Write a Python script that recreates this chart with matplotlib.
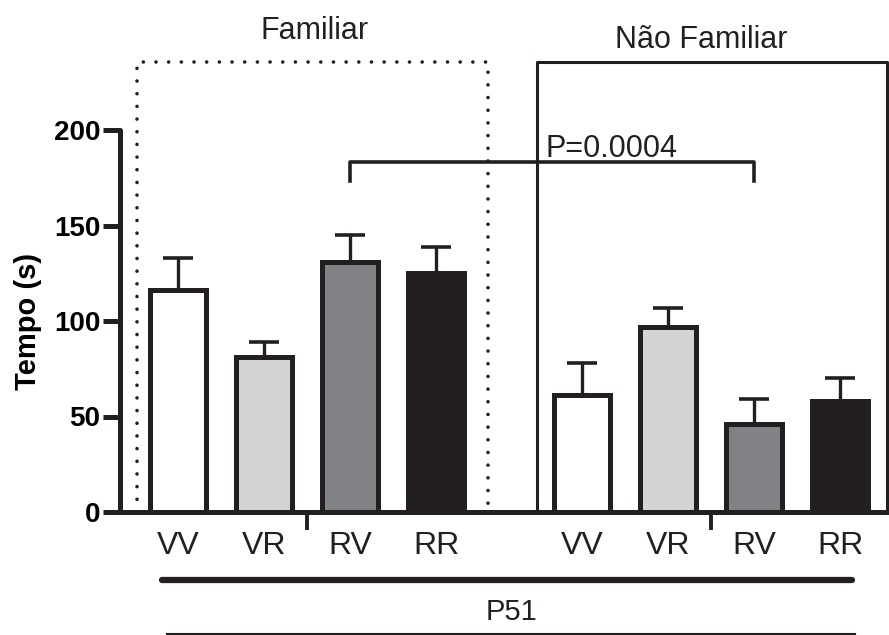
import numpy as np
import matplotlib
matplotlib.use("Agg")
import matplotlib.pyplot as plt
from matplotlib.lines import Line2D

# data
categories = ["VV", "VR", "RV", "RR", "VV", "VR", "RV", "RR"]
tempo = [116, 81, 131, 125, 61, 97, 46, 58]
erro = [17, 8, 14, 14, 17, 10, 13, 12]
cores = ["#ffffff", "#d1d3d4", "#808285", "#231f20"] * 2
grupos = ["Familiar", "Não Familiar"]
p_texto = "P=0.0004"
idade = "P51"

# bar positions: two groups of four
pos = np.array([0, 1, 2, 3, 4.7, 5.7, 6.7, 7.7])

W, H = 889, 635
fig = plt.figure(figsize=(W / 100, H / 100), dpi=100)

# axes: y=0 at px 512, 200 at px 130
px_per_unit = (512 - 130) / 200
x0_px, dx_px = 178, 86
ax = fig.add_axes([120 / W, (H - 512) / H, 1 - 120 / W, 512 / H])
ax.set_ylim(0, 512 / px_per_unit)
ax.set_xlim((120 - x0_px) / dx_px, (889 - x0_px) / dx_px)


def px2x(p):
    return (p - x0_px) / dx_px


def px2y(p):
    return (512 - p) / px_per_unit


ax.bar(pos, tempo, width=0.65, color=cores, edgecolor="#231f20", linewidth=3.6, zorder=3)
ax.errorbar(pos, tempo, yerr=[np.zeros(len(erro)), erro], fmt="none", ecolor="#231f20",
            elinewidth=2.4, capsize=11, capthick=2.6, zorder=2)

# axes styling
for s in ["top", "right"]:
    ax.spines[s].set_visible(False)
ax.spines["left"].set_bounds(0, 200)
for s in ["left", "bottom"]:
    ax.spines[s].set_linewidth(3.6)
    ax.spines[s].set_color("#231f20")
    ax.spines[s].set_capstyle("round")

ax.set_yticks([0, 50, 100, 150, 200])
ax.tick_params(axis="y", length=12, width=3.6, color="#231f20", pad=2)
for lab in ax.get_yticklabels():
    lab.set_fontfamily("Liberation Sans")
    lab.set_fontweight("bold")
    lab.set_fontsize(20)
ax.set_ylabel("Tempo (s)", fontsize=21, fontweight="bold", family="Liberation Sans")
ax.yaxis.set_label_coords((42 - 120) / (W - 120), (512 - 321) / 512)

ax.set_xticks(pos)
ax.set_xticklabels(categories, family="Liberation Sans", fontsize=23)
ax.tick_params(axis="x", length=0, pad=14, colors="#231f20")
ax.set_xticks([1.5, 6.2], minor=True)
ax.tick_params(axis="x", which="minor", length=13, width=2.8, color="#231f20")

# group boxes
top = px2y(62)
ax.plot([px2x(137), px2x(137), px2x(488), px2x(488)], [0, top, top, 0], ls=(0, (0.01, 3.5)),
        lw=2.6, color="#231f20", dash_capstyle="round", clip_on=False, zorder=1)
ax.plot([px2x(537), px2x(537), px2x(887), px2x(887)], [0, top, top, 0], lw=2.2,
        color="#231f20", clip_on=False, zorder=1)
ax.text(px2x(315), px2y(31), grupos[0], ha="center", va="center", fontsize=22,
        family="Liberation Sans", color="#231f20")
ax.text(px2x(701), px2y(40), grupos[1], ha="center", va="center", fontsize=22,
        family="Liberation Sans", color="#231f20")

# comparison bracket
yb = px2y(162)
ax.plot([pos[2], pos[2], pos[6], pos[6]], [px2y(181), yb, yb, px2y(181)], lw=2.6,
        color="#231f20", clip_on=False, zorder=4)
ax.text(px2x(545), px2y(157), p_texto, ha="left", va="baseline", fontsize=22,
        family="Liberation Sans", color="#231f20")

# age label lines under the x axis
fig.add_artist(Line2D([162 / W, 852 / W], [1 - 580 / H, 1 - 580 / H], lw=4.5,
                      color="#231f20", solid_capstyle="round"))
fig.add_artist(Line2D([167 / W, 855 / W], [1 - 634 / H, 1 - 634 / H], lw=1.5,
                      color="#231f20"))
fig.text(511 / W, 1 - 612 / H, idade, ha="center", va="center", fontsize=21,
         family="Liberation Sans", color="#231f20")

fig.savefig("out.png", dpi=100)
